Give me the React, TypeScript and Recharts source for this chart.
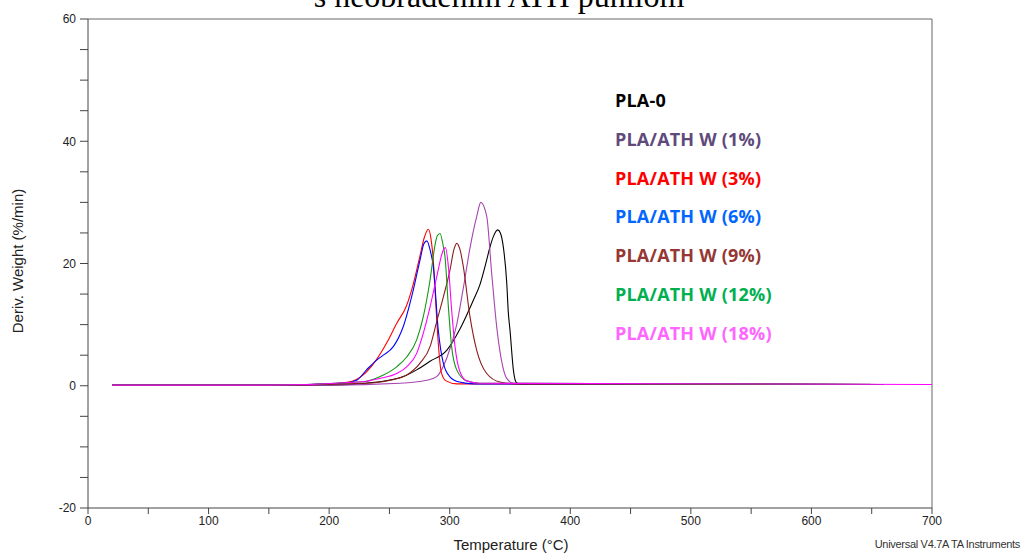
import React from "react";
import { LineChart, Line, XAxis, YAxis, Legend, ReferenceLine } from "recharts";

// [temperature °C, deriv. weight %/min]
const pla0: [number, number][] = [
  [20, 0.1], [200, 0.1], [242, 0.65], [261.5, 1.5], [272.6, 2.6], [283.7, 4.0], [297.5, 5.8],
  [308.5, 9.3], [319.6, 14], [325, 16.5], [330.7, 20.6], [333.4, 22.7], [336.2, 24.4],
  [339.8, 25.5], [342, 25], [344.4, 22.8], [347.3, 16.8], [348.6, 12], [350, 9.1],
  [352.8, 2.6], [355, 0.6], [358, 0.3], [660, 0.2],
];
const ath1: [number, number][] = [
  [20, 0.1], [200, 0.1], [258.8, 0.4], [280.9, 0.9], [289.2, 1.5], [297.5, 4.5], [305.8, 10],
  [311.3, 16], [316.8, 22.5], [322.4, 27.7], [325.8, 30.0], [330.7, 27.7], [334.8, 18.4],
  [339, 9.6], [343.1, 4.0], [347.3, 1.2], [352.8, 0.4], [660, 0.2],
];
const ath3: [number, number][] = [
  [20, 0.1], [150, 0.1], [200, 0.3], [217, 0.65], [228, 1.75], [239, 4.2], [248, 7.1],
  [256, 10.2], [264, 13], [270, 16.8], [275.4, 21.3], [279, 24.3], [282.3, 25.6],
  [284.5, 24], [286.2, 21], [288, 15], [290.5, 7], [293, 2.2], [297, 0.8], [306, 0.3], [660, 0.2],
];
const ath6: [number, number][] = [
  [20, 0.1], [150, 0.1], [211.7, 0.4], [222.8, 0.9], [231, 2.6], [239.4, 4.2], [244.9, 5.0],
  [253.2, 6.4], [261.5, 9.7], [269.8, 15.7], [275.4, 20.6], [278.5, 23.2], [281, 23.7],
  [284, 22], [286.4, 19.5], [290.5, 9.1], [294.7, 3.7], [300, 1.5], [308, 0.6], [320, 0.3], [660, 0.2],
];
const ath9: [number, number][] = [
  [20, 0.1], [150, 0.1], [230, 0.4], [250.5, 0.9], [264.3, 1.75], [275.4, 3.7], [283.7, 6.4],
  [289.2, 10.5], [294.7, 14.5], [300.2, 18.9], [303.5, 22.3], [305.8, 23.3], [308.5, 22.3],
  [311.3, 19.5], [316.8, 11.3], [322.4, 5.8], [330.7, 2.0], [341.7, 0.6], [355, 0.3], [660, 0.2],
];
const ath12: [number, number][] = [
  [20, 0.1], [150, 0.1], [228, 0.65], [245, 1.75], [256, 3.1], [264.3, 4.7], [272.6, 7.5],
  [278.1, 11.3], [283.7, 17.3], [287.8, 23.0], [289.6, 24.5], [292, 24.9], [294.5, 23],
  [296.1, 21.1], [298.9, 12.9], [301.6, 6.4], [305.8, 2.6], [314, 0.8], [325, 0.4], [660, 0.2],
];
const ath18: [number, number][] = [
  [20, 0.1], [150, 0.1], [228, 0.65], [242, 1.2], [256, 2.0], [264.3, 3.1], [272.6, 5.3],
  [278.1, 8.6], [283.7, 12.9], [289.2, 17.8], [294.7, 22.2], [296.5, 22.6], [298.9, 19.5],
  [301.6, 12.4], [304.4, 6.4], [308.5, 2.3], [314, 0.8], [325, 0.4], [700, 0.2],
];

const names = [
  "PLA-0",
  "PLA/ATH W (1%)",
  "PLA/ATH W (3%)",
  "PLA/ATH W (6%)",
  "PLA/ATH W (9%)",
  "PLA/ATH W (12%)",
  "PLA/ATH W (18%)",
];
const lineColors = ["#000000", "#a645b0", "#ff0000", "#0000ff", "#8b1c1c", "#119911", "#ff00ff"];
const textColors = ["#000000", "#604a7b", "#ff0000", "#0066ff", "#953735", "#00b050", "#ff66ff"];
const curves = [pla0, ath1, ath3, ath6, ath9, ath12, ath18];

const xTicks = [0, 50, 100, 150, 200, 250, 300, 350, 400, 450, 500, 550, 600, 650, 700];
const yTicks = [-20, -15, -10, -5, 0, 5, 10, 15, 20, 25, 30, 35, 40, 45, 50, 55, 60];

const series = curves.map((pts, i) => ({
  name: names[i],
  color: lineColors[i],
  data: pts.map(([t, v]) => ({ t, v })),
}));

const axisFont = { fontFamily: "Liberation Sans, Arial, sans-serif", fontSize: 12, fill: "#222" };

// legend is drawn with zero height so it doesn't eat into the plot area
const renderLegend = () => (
  <div style={{ fontFamily: "'Open Sans', sans-serif", fontWeight: 700, fontSize: 18, letterSpacing: 0.2 }}>
    {names.map((n, i) => (
      <div key={n} style={{ color: textColors[i], height: 38.8, lineHeight: "38.8px", whiteSpace: "nowrap" }}>
        {n}
      </div>
    ))}
  </div>
);

export default function App() {
  return (
    <div style={{ position: "absolute", left: 0, top: 0, width: 1024, height: 553, overflow: "hidden", background: "#fff" }}>
      <svg width={1024} height={20} style={{ position: "absolute", left: 0, top: 0 }}>
        <text x={499} y={7} textAnchor="middle" fontFamily="Liberation Serif, Times New Roman, serif" fontSize={32} fill="#000">
          s neobrađenim ATH punilom
        </text>
      </svg>
      <LineChart width={1024} height={553} margin={{ top: 19, right: 92, bottom: 0, left: 0 }}>
        <XAxis
          type="number"
          dataKey="t"
          domain={[0, 700]}
          ticks={xTicks}
          interval={0}
          height={45}
          tickSize={6}
          tickMargin={2}
          stroke="#444"
          tick={axisFont}
          tickFormatter={(v: number) => (v % 100 === 0 ? String(v) : "")}
          allowDataOverflow
          label={() => (
            <text x={511} y={550} textAnchor="middle" fontFamily="Liberation Sans, Arial, sans-serif" fontSize={15} fill="#222">
              Temperature (°C)
            </text>
          )}
        />
        <YAxis
          type="number"
          domain={[-20, 60]}
          ticks={yTicks}
          interval={0}
          width={88}
          tickSize={8}
          tickMargin={4}
          stroke="#444"
          tick={axisFont}
          tickFormatter={(v: number) => (v % 20 === 0 ? String(v) : "")}
          allowDataOverflow
          label={() => (
            <text
              x={23}
              y={261}
              transform="rotate(-90 23 261)"
              textAnchor="middle"
              fontFamily="Liberation Sans, Arial, sans-serif"
              fontSize={15}
              fill="#222"
            >
              Deriv. Weight (%/min)
            </text>
          )}
        />
        <ReferenceLine y={60} stroke="#666" />
        <ReferenceLine x={700} stroke="#666" />
        <Legend
          content={renderLegend}
          wrapperStyle={{ position: "absolute", left: 615, top: 81, width: 200, height: 0, bottom: "auto", overflow: "visible" }}
        />
        {series.map((s) => (
          <Line
            key={s.name}
            data={s.data}
            dataKey="v"
            name={s.name}
            type="monotone"
            stroke={s.color}
            strokeWidth={1.1}
            dot={false}
            activeDot={false}
            isAnimationActive={false}
          />
        ))}
      </LineChart>
      <div
        style={{
          position: "absolute",
          right: 4,
          top: 538,
          fontFamily: "Liberation Sans, Arial, sans-serif",
          fontSize: 11,
          color: "#333",
          letterSpacing: -0.3,
        }}
      >
        Universal V4.7A TA Instruments
      </div>
    </div>
  );
}
